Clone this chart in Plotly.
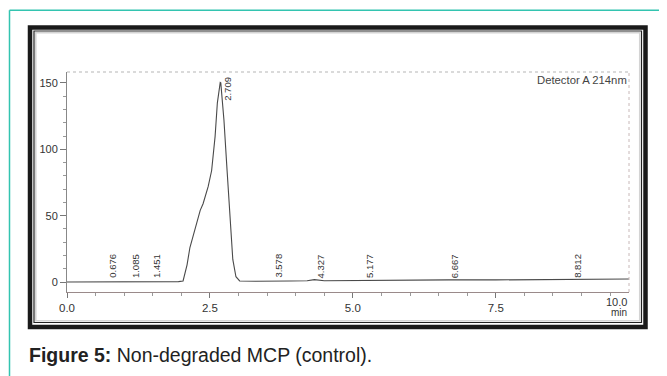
import plotly.graph_objects as go

# ---- data ----
time_min = [0.00, 0.50, 0.676, 0.80, 1.085, 1.30, 1.451, 1.70, 1.95, 2.03, 2.10, 2.15, 2.24,
            2.33, 2.38, 2.47, 2.53, 2.59, 2.63, 2.665, 2.68, 2.69, 2.745, 2.80, 2.85,
            2.90, 2.955, 3.02, 3.30, 3.578, 3.90, 4.20, 4.327, 4.50, 5.177, 5.60,
            6.20, 6.667, 7.50, 8.50, 8.812, 9.20, 9.83]
signal_mAU = [0.0, 0.0, 0.3, 0.0, 0.3, 0.0, 0.3, 0.2, 0.3, 0.8, 13, 26, 41,
              54, 59, 72, 84, 109.5, 135, 148, 150.3, 150, 122, 84, 47,
              17, 4, 0.8, 0.6, 0.9, 0.8, 1.0, 1.8, 1.0, 1.3, 1.2,
              1.3, 1.6, 1.6, 1.8, 2.2, 2.0, 2.3]
peak_labels = ["0.676", "1.085", "1.451", "3.578", "4.327", "5.177", "6.667", "8.812"]
peak_times = [0.676, 1.085, 1.451, 3.578, 4.327, 5.177, 6.667, 8.812]
main_peak_label = "2.709"
main_peak_time = 2.709
x_tick_vals = [0, 2.5, 5.0, 7.5]
x_tick_text = ["0.0", "2.5", "5.0", "7.5"]
y_tick_vals = [0, 50, 100, 150]
y_tick_text = ["0", "50", "100", "150"]
x_range = [0, 9.83]
y_range = [-7.5, 158.2]

# the page body has an 8px margin: build the figure in page coordinates minus 8
OFF = 8
W, H = 667 - OFF, 376 - OFF
PL, PR, PT, PB = 67, 629, 72, 292          # plot area in page pixels
ML, MR, MT, MB = PL - OFF, W - (PR - OFF), PT - OFF, H - (PB - OFF)
PW = W - ML - MR
PH = H - MT - MB
FONT = "Liberation Sans, Arial, sans-serif"


def px_x(px):
    return (px - OFF - ML) / PW


def px_y(py):
    return (H - MB - (py - OFF)) / PH


fig = go.Figure()
fig.add_trace(go.Scatter(x=time_min, y=signal_mAU, mode="lines",
                         line=dict(color="#4a4a4a", width=1.1),
                         hoverinfo="skip", showlegend=False))

ann = []
for lab, t in zip(peak_labels, peak_times):
    ann.append(dict(x=t, y=0, xref="x", yref="y", text=lab, showarrow=False,
                    textangle=-90, xanchor="center", yanchor="bottom",
                    xshift=6, yshift=2,
                    font=dict(family=FONT, size=9.5, color="#333")))
ann.append(dict(x=main_peak_time, y=156, xref="x", yref="y", text=main_peak_label,
                showarrow=False, textangle=-90, xanchor="center", yanchor="top",
                xshift=6, font=dict(family=FONT, size=9.5, color="#333")))
ann.append(dict(x=1, y=px_y(79.5), xref="paper", yref="paper", text="Detector A 214nm",
                showarrow=False, xanchor="right", yanchor="middle",
                font=dict(family=FONT, size=11.3, color="#444")))
ann.append(dict(x=1, y=px_y(301.5), xref="paper", yref="paper", text="10.0",
                showarrow=False, xanchor="right", yanchor="middle",
                font=dict(family=FONT, size=11, color="#333")))
ann.append(dict(x=1, y=px_y(312), xref="paper", yref="paper", text="min",
                showarrow=False, xanchor="right", yanchor="middle",
                font=dict(family=FONT, size=10, color="#333")))
ann.append(dict(x=px_x(26.5), y=px_y(355), xref="paper", yref="paper",
                text="<b>Figure 5:</b> Non-degraded MCP (control).",
                showarrow=False, xanchor="left", yanchor="middle",
                font=dict(family=FONT, size=19.5, color="#222")))

shapes = []
# teal page border
shapes.append(dict(type="line", xref="paper", yref="paper",
                   x0=px_x(9.5), y0=px_y(10.3), x1=px_x(680), y1=px_y(10.3),
                   line=dict(color="#33c4b0", width=1.5)))
shapes.append(dict(type="line", xref="paper", yref="paper",
                   x0=px_x(9.5), y0=px_y(10.3), x1=px_x(9.5), y1=px_y(390),
                   line=dict(color="#33c4b0", width=1.5)))
# black frame
shapes.append(dict(type="rect", xref="paper", yref="paper",
                   x0=px_x(30), y0=px_y(27.5), x1=px_x(645.5), y1=px_y(327),
                   line=dict(color="#1a1a1a", width=4.5)))
shapes.append(dict(type="rect", xref="paper", yref="paper",
                   x0=px_x(34), y0=px_y(31), x1=px_x(641.5), y1=px_y(322.5),
                   line=dict(color="#222", width=1.2)))
shapes.append(dict(type="rect", xref="paper", yref="paper",
                   x0=px_x(35.8), y0=px_y(32.8), x1=px_x(639.7), y1=px_y(320.7),
                   line=dict(color="#d4d4d4", width=1.5)))
# dotted top / right plot border
shapes.append(dict(type="line", xref="paper", yref="paper", x0=0, y0=1, x1=1, y1=1,
                   line=dict(color="#b5b5b5", width=1, dash="dot")))
shapes.append(dict(type="line", xref="paper", yref="paper", x0=1, y0=0, x1=1, y1=1,
                   line=dict(color="#c8b8b8", width=1, dash="dot")))

fig.update_layout(
    width=W, height=H,
    margin=dict(l=ML, r=MR, t=MT, b=MB),
    paper_bgcolor="white", plot_bgcolor="white",
    annotations=ann, shapes=shapes,
    font=dict(family=FONT, color="#333"),
    xaxis=dict(range=x_range, showgrid=False, zeroline=False,
               showline=True, linecolor="#9a8a8a", linewidth=1,
               tickmode="array", tickvals=x_tick_vals, ticktext=x_tick_text,
               ticks="outside", ticklen=5, tickcolor="#777", tickwidth=1,
               minor=dict(dtick=0.5, tick0=0, ticks="outside", ticklen=3,
                          tickcolor="#999", showgrid=False),
               tickfont=dict(family=FONT, size=11.5, color="#333")),
    yaxis=dict(range=y_range, showgrid=False, zeroline=False,
               showline=True, linecolor="#888", linewidth=1,
               tickmode="array", tickvals=y_tick_vals, ticktext=y_tick_text,
               ticks="outside", ticklen=6, tickcolor="#777", tickwidth=1,
               minor=dict(dtick=10, tick0=0, ticks="outside", ticklen=3,
                          tickcolor="#999", showgrid=False),
               tickfont=dict(family=FONT, size=11, color="#333")),
)

fig.write_html("out.html")
